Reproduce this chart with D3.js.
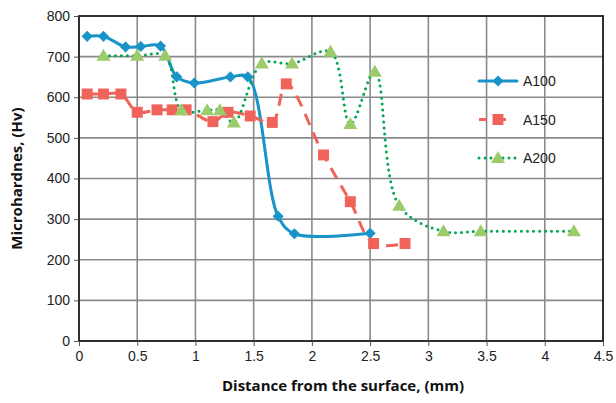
<!DOCTYPE html>
<html>
<head>
<meta charset="utf-8">
<script src="https://cdn.jsdelivr.net/npm/d3@7"></script>
<style>
  body { margin: 0; background: #fff; }
  svg text { font-family: "Liberation Sans", Arial, sans-serif; }
  .ttl { font-family: "Open Sans", "Noto Sans", sans-serif; font-weight: bold; }
</style>
</head>
<body>
<svg width="616" height="403"></svg>
<script>
// distance (mm) / microhardness (Hv)
const a100X = [0.07, 0.21, 0.40, 0.53, 0.70, 0.84, 0.99, 1.30, 1.45, 1.71, 1.85, 2.50];
const a100Y = [750, 750, 724, 725, 726, 650, 635, 650, 650, 307, 264, 265];
const a150X = [0.07, 0.21, 0.36, 0.50, 0.67, 0.80, 0.92, 1.15, 1.28, 1.47, 1.66, 1.78, 2.10, 2.33, 2.53, 2.80];
const a150Y = [608, 608, 608, 563, 569, 569, 569, 540, 563, 554, 538, 633, 458, 343, 240, 240];
const a200X = [0.21, 0.50, 0.74, 0.88, 1.10, 1.21, 1.33, 1.57, 1.83, 2.16, 2.33, 2.54, 2.75, 3.13, 3.45, 4.25];
const a200Y = [702, 702, 702, 568, 568, 568, 538, 683, 683, 712, 534, 663, 333, 270, 270, 270];
const seriesNames = ["A100", "A150", "A200"];
const xTicks = [0, 0.5, 1, 1.5, 2, 2.5, 3, 3.5, 4, 4.5];
const yTicks = [0, 100, 200, 300, 400, 500, 600, 700, 800];

const svg = d3.select("svg");
const pl = 79, pr = 603, pt = 16, pb = 341;

const x = d3.scaleLinear().domain([0, 4.5]).range([pl, pr]);
const y = d3.scaleLinear().domain([0, 800]).range([pb, pt]);

// grid
svg.append("g").selectAll("line").data(xTicks.slice(1, -1)).join("line")
  .attr("x1", d => x(d)).attr("x2", d => x(d))
  .attr("y1", pt).attr("y2", pb)
  .attr("stroke", "#8a8a8a").attr("stroke-width", 1.6);
svg.append("g").selectAll("line").data(yTicks.slice(1, -1)).join("line")
  .attr("x1", pl).attr("x2", pr)
  .attr("y1", d => y(d)).attr("y2", d => y(d))
  .attr("stroke", "#8a8a8a").attr("stroke-width", 1.6);

svg.append("rect")
  .attr("x", pl).attr("y", pt)
  .attr("width", pr - pl).attr("height", pb - pt)
  .attr("fill", "none").attr("stroke", "#1a1a1a").attr("stroke-width", 1.8);

// axes
const xAxis = svg.append("g").attr("transform", `translate(0,${pb})`)
  .call(d3.axisBottom(x).tickValues(xTicks).tickSize(5).tickPadding(5).tickFormat(d3.format("")));
const yAxis = svg.append("g").attr("transform", `translate(${pl},0)`)
  .call(d3.axisLeft(y).tickValues(yTicks).tickSize(5).tickPadding(4));
[xAxis, yAxis].forEach(a => {
  a.select(".domain").remove();
  a.selectAll(".tick line").attr("stroke", "#555");
  a.selectAll("text").attr("font-size", 14).attr("fill", "#222")
    .attr("font-family", "Liberation Sans, Arial, sans-serif");
});

svg.append("text").attr("class", "ttl")
  .attr("x", (pl + pr) / 2 + 2).attr("y", 391)
  .attr("text-anchor", "middle").attr("font-size", 15).attr("fill", "#111")
  .text("Distance from the surface, (mm)");
svg.append("text").attr("class", "ttl")
  .attr("transform", `translate(22,${(pt + pb) / 2}) rotate(-90)`)
  .attr("text-anchor", "middle").attr("font-size", 15).attr("fill", "#111")
  .text("Microhardnes, (Hv)");

const curve = d3.curveCatmullRom.alpha(0.5);
const line = d3.line().x(d => x(d[0])).y(d => y(d[1])).curve(curve);

// rot: rotate the square symbol to get an Excel-style diamond
const series = [
  { name: seriesNames[0], pts: d3.zip(a100X, a100Y), stroke: "#1a93c9", dash: null, w: 3,
    sym: d3.symbolSquare, size: 62, rot: 45, dy: 0, fill: "#1a93c9", lc: "round" },
  { name: seriesNames[1], pts: d3.zip(a150X, a150Y), stroke: "#f0635b", dash: "12,8", w: 3,
    sym: d3.symbolSquare, size: 120, rot: 0, dy: 0, fill: "#f0635b", lc: "butt" },
  { name: seriesNames[2], pts: d3.zip(a200X, a200Y), stroke: "#00a651", dash: "0,6", w: 3,
    sym: d3.symbolTriangle, size: 85, rot: 0, dy: 1, fill: "#9bcb6b", lc: "round" }
];

series.forEach(s => {
  svg.append("path").attr("d", line(s.pts))
    .attr("fill", "none").attr("stroke", s.stroke).attr("stroke-width", s.w)
    .attr("stroke-dasharray", s.dash).attr("stroke-linecap", s.lc);
});
series.forEach(s => {
  svg.append("g").selectAll("path").data(s.pts).join("path")
    .attr("d", d3.symbol(s.sym, s.size))
    .attr("transform", d => `translate(${x(d[0])},${y(d[1]) + s.dy}) rotate(${s.rot})`)
    .attr("fill", s.fill);
});

// legend
const lg = svg.append("g");
series.forEach((s, i) => {
  const ly = 81 + i * 38.5;
  lg.append("line").attr("x1", 479).attr("x2", 517).attr("y1", ly).attr("y2", ly)
    .attr("stroke", s.stroke).attr("stroke-width", s.w)
    .attr("stroke-dasharray", s.dash ? (s.lc === "round" ? "0,6" : "8,11") : null)
    .attr("stroke-linecap", s.lc);
  lg.append("path").attr("d", d3.symbol(s.sym, s.size))
    .attr("transform", `translate(498,${ly + s.dy}) rotate(${s.rot})`)
    .attr("fill", s.fill);
  lg.append("text").attr("x", 523).attr("y", ly + 5).attr("font-size", 14).attr("fill", "#222")
    .text(s.name);
});
</script>
</body>
</html>
